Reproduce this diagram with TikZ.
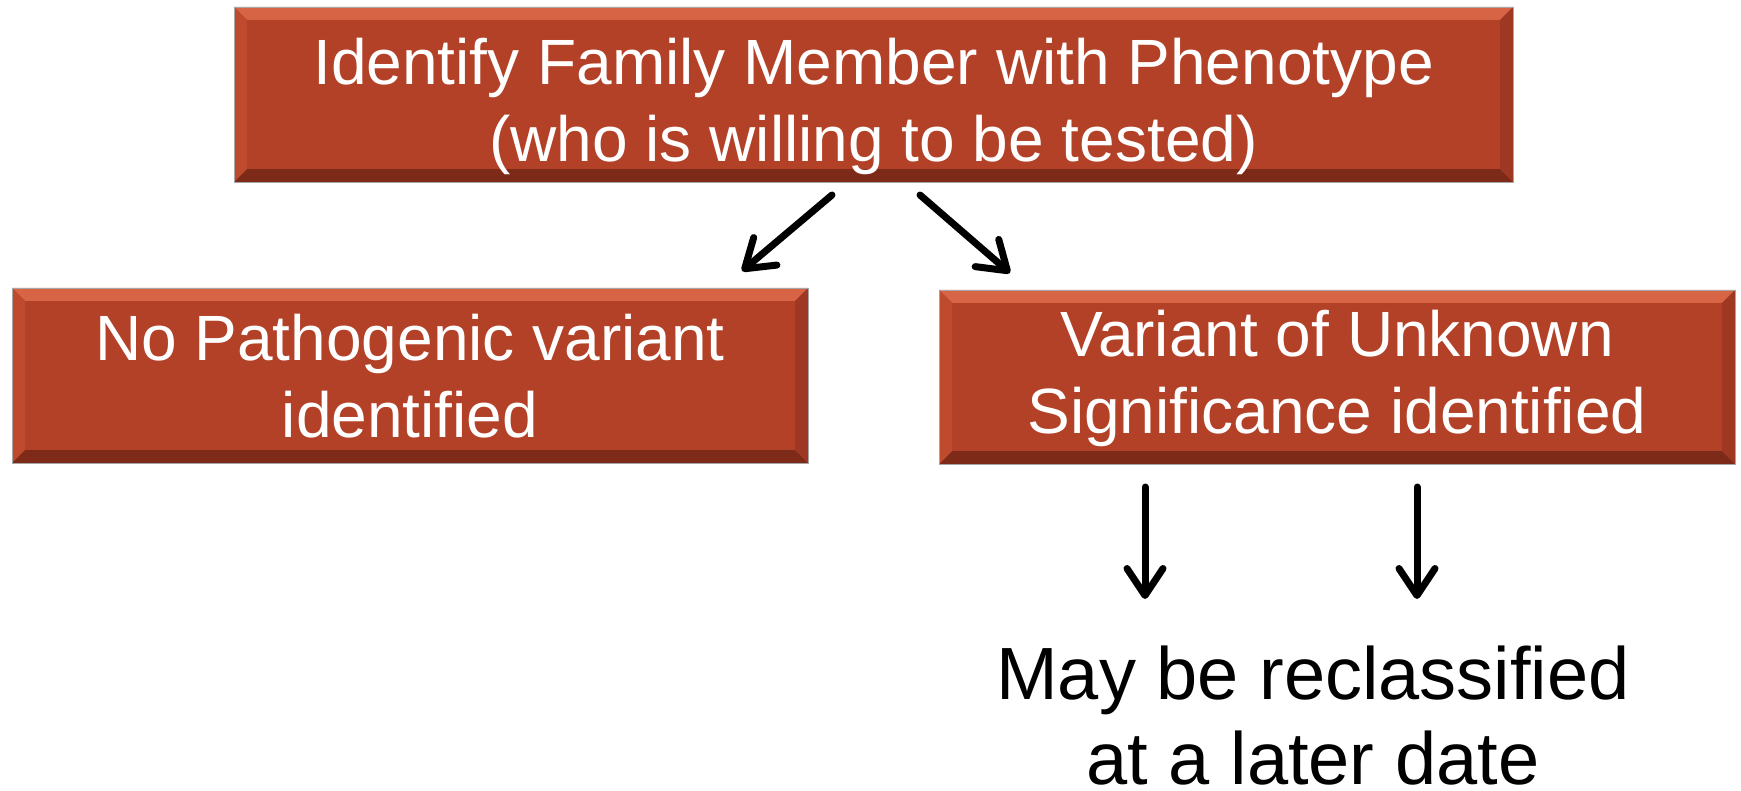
\documentclass[tikz,border=0pt]{standalone}
\usepackage{fontspec}
\setmainfont{Liberation Sans}
\usetikzlibrary{arrows.meta}
\definecolor{boxmain}{HTML}{B34127}
\definecolor{boxlight}{HTML}{D86446}
\definecolor{boxdark}{HTML}{7E2A18}
\definecolor{boxside}{HTML}{C04A2E}
\definecolor{boxsided}{HTML}{9E3822}
\tikzset{
  bevelbox/.style={
    rectangle, fill=boxmain, draw=gray!70, line width=0.8pt, inner sep=0pt,
    path picture={
      \fill[boxlight] (path picture bounding box.north west) -- (path picture bounding box.north east)
        -- ([shift={(-13pt,-13pt)}]path picture bounding box.north east)
        -- ([shift={(13pt,-13pt)}]path picture bounding box.north west) -- cycle;
      \fill[boxdark] (path picture bounding box.south west) -- (path picture bounding box.south east)
        -- ([shift={(-13pt,13pt)}]path picture bounding box.south east)
        -- ([shift={(13pt,13pt)}]path picture bounding box.south west) -- cycle;
      \fill[boxside] (path picture bounding box.north west) -- ([shift={(13pt,-13pt)}]path picture bounding box.north west)
        -- ([shift={(13pt,13pt)}]path picture bounding box.south west) -- (path picture bounding box.south west) -- cycle;
      \fill[boxsided] (path picture bounding box.north east) -- ([shift={(-13pt,-13pt)}]path picture bounding box.north east)
        -- ([shift={(-13pt,13pt)}]path picture bounding box.south east) -- (path picture bounding box.south east) -- cycle;
      \fill[boxmain] ([shift={(13pt,-13pt)}]path picture bounding box.north west) rectangle ([shift={(-13pt,13pt)}]path picture bounding box.south east);
    }
  },
  boxtext/.style={text=white, align=center, inner sep=0pt, font=\fontsize{64}{77}\selectfont},
  plaintext/.style={text=black, align=center, inner sep=0pt, font=\fontsize{74}{85}\selectfont},
  arr/.style={line width=7pt, line cap=round, -{Straight Barb[length=27pt,width=36pt,line width=7pt,round]}}
}
\begin{document}
\begin{tikzpicture}[x=1pt,y=-1pt]
\useasboundingbox (0,0) rectangle (1741,791);
\node[bevelbox, minimum width=1279pt, minimum height=175pt] (top) at (873.5,94.5) {};
\node[boxtext] (toptext) at ([yshift=-12pt]top.center)
  {Identify Family Member with Phenotype\\(who is willing to be tested)};
\node[bevelbox, minimum width=796pt, minimum height=175pt] (left) at (410,375.5) {};
\node[boxtext] (lefttext) at ([yshift=-1pt]left.center) {No Pathogenic variant\\identified};
\node[bevelbox, minimum width=796pt, minimum height=174pt] (right) at (1337,377) {};
\node[boxtext] (righttext) at ([yshift=-1pt]right.center) {Variant of Unknown\\Significance identified};
\node[plaintext] (later) at (1313,716) {May be reclassified\\at a later date};
\coordinate (a1s) at (832,195);
\coordinate (a1e) at (742,271);
\coordinate (a2s) at (920,195);
\coordinate (a2e) at (1010,273);
\coordinate (d1s) at (1145,487);
\coordinate (d1e) at (1145,599);
\coordinate (d2s) at (1417,487);
\coordinate (d2e) at (1417,599);
\draw[arr] (a1s) -- (a1e);
\draw[arr] (a2s) -- (a2e);
\draw[arr] (d1s) -- (d1e);
\draw[arr] (d2s) -- (d2e);
\end{tikzpicture}
\end{document}
